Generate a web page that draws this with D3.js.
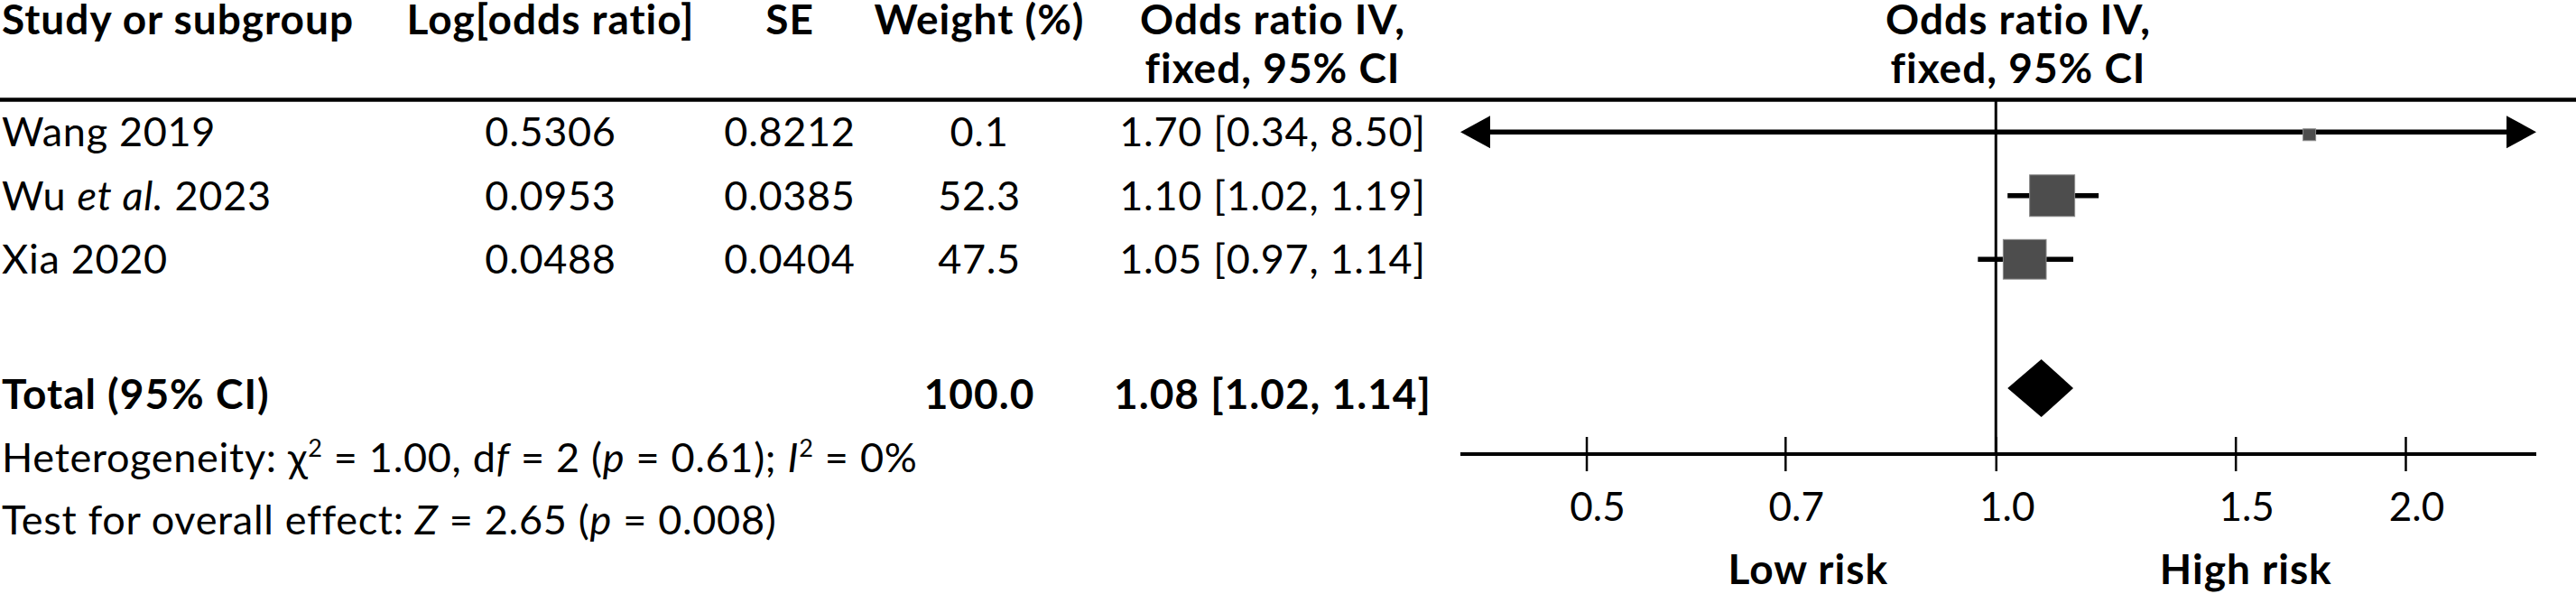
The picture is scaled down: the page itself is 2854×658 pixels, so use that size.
<!DOCTYPE html>
<html>
<head>
<meta charset="utf-8">
<script src="https://cdn.jsdelivr.net/npm/d3@7"></script>
<style>
  body { margin: 0; background: #fff; }
  text { font-family: Lato, "Noto Sans", sans-serif; fill: #000; }
</style>
</head>
<body>
<div class="canvas"></div>
<script>
// study data
const studies = ['Wang 2019', 'Wu et al. 2023', 'Xia 2020'];
const logOdds = ['0.5306', '0.0953', '0.0488'];
const stdErr = ['0.8212', '0.0385', '0.0404'];
const weights = [0.1, 52.3, 47.5];
const oddsRatios = [1.70, 1.10, 1.05];
const ciLower = [0.34, 1.02, 0.97];
const ciUpper = [8.50, 1.19, 1.14];

// pooled result
const totalWeight = 100.0;
const totalOR = 1.08;
const totalLower = 1.02;
const totalUpper = 1.14;

// heterogeneity / overall effect
const chi2 = 1.00, df = 2, pHet = 0.61, iSquared = 0;
const zValue = 2.65, pOverall = 0.008;

const tickValues = [0.5, 0.7, 1.0, 1.5, 2.0];
const sideLabels = ['Low risk', 'High risk'];

const width = 2854, height = 658;
const fs = 45, fsBold = 46;

const svg = d3.select('.canvas')
    .append('svg')
    .attr('width', width)
    .attr('height', height);

const fmt1 = d3.format('.1f');
const fmt2 = d3.format('.2f');

// scales
const x = d3.scaleLog().domain([0.404, 2.496]).range([1618, 2810]);
const y = d3.scaleBand().domain(studies).range([111, 322.5]);
const rowY = d => y(d) + y.bandwidth() / 2;
const size = d3.scaleSqrt().domain([0, d3.max(weights)]).range([0, 50]);
const totalY = 430;
const axisY = 503;

// column centres
const col = { study: 2, logOdds: 610, se: 875, weight: 1085, ci: 1410, plot: 2236 };

function label(txt, xPos, yPos, anchor, bold) {
    return svg.append('text')
        .attr('x', xPos)
        .attr('y', yPos)
        .attr('text-anchor', anchor || 'start')
        .attr('font-size', bold ? fsBold : fs)
        .attr('letter-spacing', bold ? 1 : 0.7)
        .attr('font-weight', bold ? 'bold' : 'normal')
        .text(txt);
}

// header
label('Study or subgroup', col.study, 38, 'start', true);
label('Log[odds ratio]', col.logOdds, 38, 'middle', true);
label('SE', col.se, 38, 'middle', true);
label('Weight (%)', col.weight, 38, 'middle', true);
label('Odds ratio IV,', col.ci, 38, 'middle', true);
label('fixed, 95% CI', col.ci, 92, 'middle', true);
label('Odds ratio IV,', col.plot, 38, 'middle', true);
label('fixed, 95% CI', col.plot, 92, 'middle', true);

svg.append('line')
    .attr('x1', 0).attr('x2', width)
    .attr('y1', 110.5).attr('y2', 110.5)
    .attr('stroke', '#000').attr('stroke-width', 4.5);

// study rows
studies.forEach((s, i) => {
    const base = rowY(s) + 16;
    const t = label('', col.study, base, 'start', false);
    s.split(/(et al\.)/).filter(p => p).forEach(part => {
        t.append('tspan')
            .attr('font-style', part === 'et al.' ? 'italic' : 'normal')
            .text(part);
    });
    label(logOdds[i], col.logOdds, base, 'middle');
    label(stdErr[i], col.se, base, 'middle');
    label(fmt1(weights[i]), col.weight, base, 'middle');
    label(`${fmt2(oddsRatios[i])} [${fmt2(ciLower[i])}, ${fmt2(ciUpper[i])}]`, col.ci, base, 'middle');
});

// total row
label('Total (95% CI)', col.study, 453, 'start', true);
label(fmt1(totalWeight), col.weight, 453, 'middle', true);
label(`${fmt2(totalOR)} [${fmt2(totalLower)}, ${fmt2(totalUpper)}]`, col.ci, 453, 'middle', true);

// footnotes with italics and superscripts
function richLabel(parts, xPos, yPos) {
    const t = label('', xPos, yPos, 'start', false);
    let raised = false;
    parts.forEach(p => {
        const ts = t.append('tspan').text(p.t);
        if (p.i) ts.attr('font-style', 'italic');
        if (p.sup) {
            ts.attr('font-size', fs * 0.6).attr('dy', -17);
            raised = true;
        } else if (raised) {
            ts.attr('dy', 17);
            raised = false;
        }
    });
}

richLabel([
    { t: 'Heterogeneity: χ' }, { t: '2', sup: true },
    { t: ` = ${fmt2(chi2)}, d` }, { t: 'f', i: true },
    { t: ` = ${df} (` }, { t: 'p', i: true },
    { t: ` = ${fmt2(pHet)}); ` }, { t: 'I', i: true }, { t: '2', sup: true },
    { t: ` = ${iSquared}%` }
], col.study, 523);

richLabel([
    { t: 'Test for overall effect: ' }, { t: 'Z', i: true },
    { t: ` = ${fmt2(zValue)} (` }, { t: 'p', i: true },
    { t: ` = ${pOverall})` }
], col.study, 592);

// plot area
const plot = svg.append('g');

// line of no effect
plot.append('line')
    .attr('x1', x(1)).attr('x2', x(1))
    .attr('y1', 112).attr('y2', axisY)
    .attr('stroke', '#000').attr('stroke-width', 3);

// confidence intervals
const [d0, d1] = x.domain();
const arrowLen = 33, arrowHalf = 18;
studies.forEach((s, i) => {
    const cy = rowY(s);
    const leftClip = ciLower[i] < d0;
    const rightClip = ciUpper[i] > d1;
    const x1 = leftClip ? x(d0) + arrowLen : x(ciLower[i]);
    const x2 = rightClip ? x(d1) - arrowLen : x(ciUpper[i]);
    plot.append('line')
        .attr('x1', x1).attr('x2', x2)
        .attr('y1', cy).attr('y2', cy)
        .attr('stroke', '#000').attr('stroke-width', 5.5);
    if (leftClip) {
        plot.append('path')
            .attr('d', `M${x(d0)},${cy}L${x(d0) + arrowLen},${cy - arrowHalf}L${x(d0) + arrowLen},${cy + arrowHalf}Z`)
            .attr('fill', '#000');
    }
    if (rightClip) {
        plot.append('path')
            .attr('d', `M${x(d1)},${cy}L${x(d1) - arrowLen},${cy - arrowHalf}L${x(d1) - arrowLen},${cy + arrowHalf}Z`)
            .attr('fill', '#000');
    }
});

// weight squares
plot.selectAll('rect.study')
    .data(studies)
    .enter().append('rect')
    .attr('class', 'study')
    .each(function(s, i) {
        const w = Math.max(size(weights[i]), 14);
        const h = Math.max(size(weights[i]) * 0.92, 13);
        d3.select(this)
            .attr('x', x(oddsRatios[i]) - w / 2)
            .attr('y', rowY(s) - h / 2 + (w === 14 ? 3 : 0))
            .attr('width', w)
            .attr('height', h);
    })
    .attr('fill', '#4d4d4d')
    .attr('stroke', '#8a8a8a')
    .attr('stroke-width', 1);

// pooled diamond
plot.append('path')
    .attr('d', `M${x(totalLower)},${totalY}L${x(totalOR)},${totalY - 32}L${x(totalUpper)},${totalY}L${x(totalOR)},${totalY + 32}Z`)
    .attr('fill', '#000');

// x axis
plot.append('line')
    .attr('x1', x.range()[0]).attr('x2', x.range()[1])
    .attr('y1', axisY).attr('y2', axisY)
    .attr('stroke', '#000').attr('stroke-width', 4);

const xAxis = d3.axisBottom(x)
    .tickValues(tickValues)
    .tickFormat(fmt1)
    .tickSizeInner(38)
    .tickSizeOuter(0);

const axisGroup = plot.append('g')
    .attr('transform', `translate(0, ${axisY - 19})`)
    .call(xAxis);

axisGroup.select('.domain').remove();
axisGroup.selectAll('.tick line').attr('stroke', '#000').attr('stroke-width', 2.5);
axisGroup.selectAll('.tick text')
    .attr('y', 93)
    .attr('dy', 0)
    .attr('dx', 12)
    .attr('font-size', 44)
    .attr('font-family', 'Lato, "Noto Sans", sans-serif')
    .attr('fill', '#000');

label(sideLabels[0], x(1) - 208, 647, 'middle', true);
label(sideLabels[1], x(1) + 277, 647, 'middle', true);
</script>
</body>
</html>
